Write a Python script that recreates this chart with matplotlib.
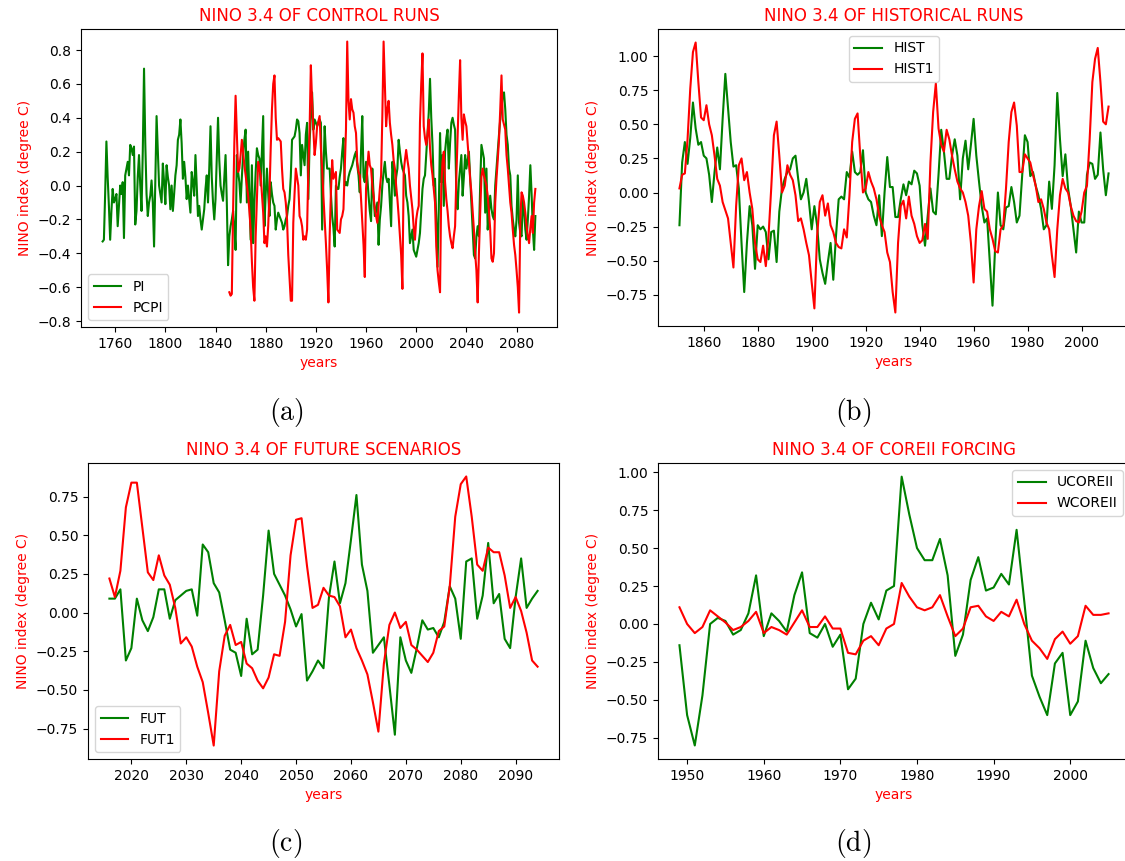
#!/usr/bin/env python3
"""Nino 3.4 index of control, historical, future and CORE-II runs (4 panels)."""

import matplotlib

matplotlib.use("Agg")
import matplotlib.pyplot as plt
import numpy as np

plt.rcParams["mathtext.fontset"] = "cm"

# ---- (a) control runs, annual values --------------------------------------
PI_START = 1750
PI = [
    -0.33, -0.32, -0.05, 0.26, 0.05, -0.12, -0.32, -0.15, -0.02, -0.10,
    -0.08, -0.05, -0.24, -0.12, 0.00, -0.05, 0.02, -0.31, 0.06, 0.10,
    0.14, 0.06, 0.24, 0.22, 0.18, 0.23, -0.23, -0.15, 0.05, 0.18,
    0.00, -0.15, 0.20, 0.69, 0.25, -0.05, -0.18, -0.10, -0.06, 0.03,
    -0.10, -0.36, 0.02, 0.41, 0.20, 0.00, -0.05, -0.10, 0.13, 0.02,
    -0.11, 0.12, 0.05, 0.00, -0.14, 0.00, -0.15, -0.05, 0.06, 0.12,
    0.27, 0.30, 0.39, 0.25, 0.04, 0.14, 0.05, -0.08, 0.00, -0.08,
    -0.16, 0.08, 0.02, -0.06, 0.18, 0.00, -0.18, -0.12, -0.20, -0.26,
    -0.20, -0.14, -0.02, 0.06, -0.10, 0.10, 0.35, 0.05, -0.10, -0.20,
    -0.08, 0.15, 0.40, 0.15, 0.00, -0.05, -0.09, 0.05, 0.18, -0.10,
    -0.47, -0.30, -0.24, -0.20, -0.15, -0.25, -0.38, 0.18, 0.08, 0.02,
    -0.10, 0.05, 0.18, 0.27, 0.33, -0.10, 0.20, -0.05, -0.32, 0.12,
    -0.34, -0.10, 0.08, 0.22, 0.18, 0.16, 0.00, 0.20, 0.41, -0.24,
    -0.05, 0.10, -0.05, -0.18, 0.02, -0.05, -0.10, -0.12, -0.26, -0.20,
    -0.16, -0.18, -0.20, -0.22, -0.26, -0.24, -0.20, -0.18, -0.12, -0.08,
    0.05, 0.27, 0.28, 0.29, 0.33, 0.39, 0.38, 0.31, 0.06, 0.24,
    0.18, 0.12, 0.30, 0.37, -0.08, 0.26, 0.40, 0.55, 0.33, 0.39,
    0.37, 0.35, 0.37, 0.39, 0.37, -0.26, 0.05, 0.35, 0.20, 0.10,
    0.10, 0.10, -0.05, -0.18, -0.25, -0.36, 0.00, -0.02, -0.02, 0.05,
    0.10, 0.20, 0.28, 0.00, 0.02, 0.00, 0.05, 0.08, 0.10, 0.12,
    0.15, 0.18, 0.20, 0.12, 0.06, -0.04, 0.20, 0.41, 0.05, 0.02,
    0.14, 0.05, -0.06, -0.15, -0.21, 0.10, -0.05, -0.18, -0.14, -0.10,
    -0.35, -0.20, -0.12, 0.00, 0.08, 0.14, 0.05, 0.02, 0.04, -0.10,
    -0.24, 0.14, 0.05, -0.06, 0.05, 0.10, 0.27, 0.20, 0.14, 0.10,
    0.08, 0.06, -0.06, -0.10, -0.18, -0.34, -0.30, -0.26, -0.38, -0.40,
    -0.42, -0.38, -0.34, -0.28, -0.15, -0.02, 0.04, 0.06, 0.18, 0.30,
    0.43, 0.63, 0.40, 0.24, 0.00, 0.04, -0.20, -0.48, -0.14, 0.31,
    0.02, 0.18, -0.12, 0.20, 0.28, 0.33, 0.10, 0.25, 0.37, 0.40,
    0.36, 0.33, -0.05, -0.14, 0.02, 0.10, 0.18, -0.06, 0.05, 0.18,
    0.10, 0.15, 0.20, 0.05, -0.10, -0.25, -0.41, -0.43, -0.30, -0.24,
    -0.30, 0.00, 0.24, 0.20, 0.16, -0.16, 0.10, -0.26, -0.15, -0.06,
    -0.14, -0.18, -0.20, 0.00, 0.10, 0.20, 0.30, 0.39, 0.46, 0.53,
    0.55, 0.45, 0.30, 0.24, 0.10, 0.06, -0.12, -0.20, -0.26, -0.30,
    -0.20, 0.06, -0.22, -0.28, -0.30, -0.08, -0.15, -0.26, -0.32, -0.20,
    -0.06, 0.12, -0.05, -0.26, -0.38, -0.18,
]

PCPI_START = 1851
PCPI = [
    -0.63, -0.65, -0.64, -0.15, 0.25, 0.53, 0.30, 0.08, 0.10,
    0.18, 0.27, 0.20, 0.12, 0.06, 0.00, -0.06, -0.15, -0.26, -0.45,
    -0.60, -0.68, -0.30, -0.08, 0.14, 0.10, 0.06, -0.05, -0.16, -0.34,
    -0.30, -0.36, -0.24, -0.05, 0.22, 0.45, 0.60, 0.65, 0.40, 0.27,
    0.28, 0.27, 0.26, 0.10, -0.02, -0.04, -0.10, -0.20, -0.41, -0.55,
    -0.68, -0.68, -0.22, -0.05, 0.10, 0.05, 0.00, -0.18, -0.20, -0.24,
    -0.32, -0.30, -0.32, -0.26, 0.10, 0.33, 0.71, 0.50, 0.33, 0.18,
    0.25, 0.35, 0.38, 0.41, 0.22, 0.10, -0.06, -0.20, -0.34, -0.50,
    -0.69, -0.30, -0.04, 0.15, 0.04, 0.06, 0.08, -0.26, -0.27, -0.28,
    -0.20, -0.18, -0.14, 0.10, 0.33, 0.85, 0.50, 0.39, 0.51, 0.45,
    0.43, 0.35, 0.31, 0.14, 0.08, 0.06, -0.08, -0.22, -0.35, -0.54,
    -0.02, 0.10, 0.20, 0.12, 0.10, 0.00, -0.06, -0.14, -0.18, -0.22,
    -0.12, -0.02, 0.06, 0.41, 0.85, 0.60, 0.35, 0.45, 0.50, 0.37,
    0.30, 0.24, 0.15, 0.10, 0.00, -0.08, -0.18, -0.30, -0.41, -0.61,
    0.08, 0.15, 0.21, 0.15, 0.10, 0.00, -0.07, -0.14, -0.25, -0.32,
    -0.20, -0.15, -0.12, 0.37, 0.60, 0.78, 0.35, 0.28, 0.24, 0.30,
    0.39, 0.22, 0.12, 0.06, -0.02, -0.10, -0.36, -0.50, -0.57, -0.63,
    0.00, 0.14, 0.20, 0.02, -0.08, -0.15, -0.24, -0.30, -0.34, -0.37,
    -0.30, -0.24, 0.05, 0.30, 0.53, 0.74, 0.40, 0.27, 0.42, 0.38,
    0.35, 0.25, 0.15, 0.04, -0.04, -0.15, -0.26, -0.40, -0.50, -0.69,
    -0.40, -0.16, 0.05, 0.10, 0.06, 0.03, 0.00, -0.06, -0.15, -0.26,
    -0.43, -0.45, -0.40, -0.10, 0.04, 0.15, 0.27, 0.45, 0.65, 0.39,
    0.36, 0.33, 0.18, 0.10, 0.00, -0.10, -0.16, -0.26, -0.35, -0.41,
    -0.50, -0.60, -0.75, -0.20, -0.04, -0.06, -0.10, -0.16, -0.24, -0.30,
    -0.34, -0.25, -0.18, -0.28, -0.10, -0.02,
]

# ---- (b) historical runs ----------------------------------------------------
HIST_START = 1851
HIST = [
    -0.24, 0.22, 0.37, 0.21, 0.40, 0.66, 0.47, 0.35, 0.37,
    0.27, 0.25, 0.13, -0.07, 0.15, 0.33, 0.17, 0.54, 0.87, 0.62,
    0.37, 0.19, 0.20, 0.03, -0.37, -0.73, -0.37, -0.10, -0.24, -0.56,
    -0.24, -0.27, -0.25, -0.29, -0.49, -0.29, -0.28, -0.51, -0.14, 0.03,
    0.10, 0.15, 0.17, 0.25, 0.27, 0.10, -0.05, 0.00, 0.10, -0.07,
    -0.27, -0.10, -0.24, -0.49, -0.59, -0.67, -0.51, -0.37, -0.64, -0.32,
    -0.05, -0.03, -0.05, 0.15, 0.11, 0.30, 0.15, 0.13, 0.15, 0.31,
    0.00, -0.05, -0.07, -0.17, -0.24, -0.02, -0.32, 0.00, 0.26, 0.04,
    0.04, -0.18, -0.18, -0.05, 0.06, -0.02, 0.08, 0.06, 0.16, 0.14,
    0.05, -0.24, -0.39, -0.17, 0.03, -0.14, -0.16, 0.13, 0.46, 0.30,
    0.10, 0.10, 0.27, 0.39, 0.27, -0.05, 0.25, 0.38, 0.17, 0.35,
    0.54, 0.27, 0.08, -0.10, -0.22, -0.19, -0.51, -0.83, -0.39, 0.00,
    -0.24, -0.27, -0.11, -0.10, 0.04, -0.07, -0.22, -0.17, 0.13, 0.42,
    0.37, 0.12, 0.15, 0.05, -0.02, -0.12, -0.27, -0.24, 0.08, -0.12,
    0.20, 0.73, 0.39, 0.12, 0.28, 0.03, -0.10, -0.27, -0.44, -0.14,
    -0.22, -0.22, 0.13, 0.22, 0.21, 0.10, 0.13, 0.44, 0.17, -0.02,
    0.14,
]
HIST1 = [
    0.03, 0.13, 0.14, 0.39, 0.76, 1.03, 1.10, 0.81, 0.55,
    0.53, 0.64, 0.50, 0.42, 0.27, 0.10, 0.05, -0.07, -0.13, -0.19,
    -0.37, -0.55, -0.10, 0.20, 0.25, 0.09, 0.15, 0.00, -0.12, -0.37,
    -0.49, -0.51, -0.39, -0.54, -0.32, 0.03, 0.42, 0.52, 0.27, 0.00,
    0.05, 0.20, 0.13, 0.09, -0.02, -0.21, -0.19, -0.27, -0.37, -0.46,
    -0.66, -0.85, -0.32, -0.07, -0.02, -0.17, -0.08, -0.24, -0.29, -0.37,
    -0.40, -0.41, -0.27, -0.33, -0.02, 0.37, 0.54, 0.58, 0.27, 0.00,
    0.03, 0.15, 0.08, 0.03, -0.05, -0.17, -0.24, -0.29, -0.44, -0.51,
    -0.73, -0.88, -0.37, -0.10, -0.06, -0.19, -0.03, -0.17, -0.23, -0.32,
    -0.37, -0.35, -0.23, -0.34, 0.22, 0.59, 0.80, 0.47, 0.35, 0.30,
    0.46, 0.39, 0.27, 0.17, 0.08, 0.03, 0.00, -0.07, -0.17, -0.37,
    -0.66, -0.27, -0.10, 0.01, -0.12, -0.14, -0.27, -0.34, -0.43, -0.44,
    -0.27, -0.24, 0.03, 0.37, 0.59, 0.66, 0.49, 0.15, 0.15, 0.28,
    0.25, 0.22, 0.13, 0.05, -0.07, -0.05, -0.12, -0.22, -0.27, -0.46,
    -0.62, -0.27, -0.02, 0.10, 0.03, 0.00, -0.10, -0.17, -0.21, -0.22,
    -0.14, 0.00, 0.05, 0.39, 0.81, 0.98, 1.06, 0.81, 0.52, 0.50,
    0.63,
]

# ---- (c) future scenarios ---------------------------------------------------
FUT_START = 2016
FUT = [
    0.09, 0.09, 0.15, -0.31, -0.23, 0.09, -0.05, -0.12, -0.03, 0.15,
    0.15, -0.04, 0.08, 0.11, 0.14, 0.15, -0.02, 0.44, 0.39, 0.19,
    0.13, -0.05, -0.24, -0.26, -0.41, -0.04, -0.27, -0.24, 0.11, 0.53,
    0.25, 0.18, 0.11, 0.02, -0.09, -0.01, -0.44, -0.38, -0.31, -0.36,
    0.10, 0.33, 0.06, 0.19, 0.47, 0.76, 0.31, 0.14, -0.26, -0.21,
    -0.16, -0.47, -0.79, -0.16, -0.31, -0.39, -0.23, -0.05, -0.11, -0.10,
    -0.16, -0.06, 0.17, 0.09, -0.17, 0.33, 0.35, -0.04, 0.11, 0.45,
    0.06, 0.12, -0.17, -0.23, 0.10, 0.35, 0.03, 0.09, 0.14,
]
FUT1 = [
    0.22, 0.10, 0.27, 0.68, 0.84, 0.84, 0.55, 0.26, 0.21, 0.37,
    0.24, 0.18, 0.03, -0.20, -0.16, -0.22, -0.35, -0.45, -0.65, -0.86,
    -0.38, -0.15, -0.08, -0.21, -0.19, -0.33, -0.36, -0.44, -0.49, -0.42,
    -0.27, -0.28, -0.06, 0.37, 0.60, 0.61, 0.30, 0.03, 0.05, 0.16,
    0.11, 0.10, 0.04, -0.16, -0.11, -0.23, -0.31, -0.40, -0.58, -0.77,
    -0.33, -0.08, 0.00, -0.10, -0.06, -0.21, -0.24, -0.28, -0.32, -0.26,
    -0.12, -0.09, 0.17, 0.62, 0.83, 0.88, 0.62, 0.31, 0.27, 0.42,
    0.39, 0.39, 0.24, 0.03, 0.10, 0.01, -0.13, -0.31, -0.35,
]

# ---- (d) CORE-II forcing ----------------------------------------------------
CORE_START = 1949
UCOREII = [
    -0.14, -0.60, -0.80, -0.47, 0.00, 0.04, 0.02, -0.07, -0.04, 0.07,
    0.32, -0.08, 0.07, 0.02, -0.05, 0.19, 0.34, -0.06, -0.09, 0.00,
    -0.15, -0.07, -0.43, -0.36, 0.00, 0.14, 0.03, 0.22, 0.25, 0.97,
    0.72, 0.50, 0.42, 0.42, 0.56, 0.32, -0.21, -0.07, 0.29, 0.44,
    0.22, 0.24, 0.33, 0.26, 0.62, 0.15, -0.34, -0.48, -0.60, -0.26,
    -0.19, -0.60, -0.51, -0.11, -0.29, -0.39, -0.33,
]
WCOREII = [
    0.11, 0.00, -0.06, -0.02, 0.09, 0.05, 0.01, -0.04, -0.02, 0.02,
    0.08, -0.06, -0.02, -0.04, -0.07, 0.01, 0.09, -0.02, -0.02, 0.05,
    -0.03, -0.03, -0.19, -0.20, -0.11, -0.08, -0.14, -0.03, 0.00, 0.27,
    0.18, 0.11, 0.09, 0.11, 0.19, 0.05, -0.08, -0.03, 0.11, 0.12,
    0.05, 0.02, 0.08, 0.05, 0.16, 0.00, -0.11, -0.16, -0.23, -0.10,
    -0.05, -0.13, -0.08, 0.12, 0.06, 0.06, 0.07,
]

W, H = 1125, 861


def years(start, values):
    return np.arange(start, start + len(values))


def add_axes_px(fig, left, top, right, bottom):
    return fig.add_axes([left / W, 1 - bottom / H, (right - left) / W, (bottom - top) / H])


def draw_panel(ax, title, green, red, legend_loc, xlim, ylim, xticks, yticks):
    (gname, gstart, gvals), (rname, rstart, rvals) = green, red
    ax.plot(years(gstart, gvals), gvals, color="green", lw=1.5, label=gname)
    ax.plot(years(rstart, rvals), rvals, color="red", lw=1.5, label=rname)
    ax.set_title(title, color="red", fontsize=12)
    ax.set_xlabel("years", color="red", fontsize=10)
    ax.set_ylabel("NINO index (degree C)", color="red", fontsize=10)
    ax.set_xlim(*xlim)
    ax.set_ylim(*ylim)
    ax.set_xticks(xticks)
    ax.set_yticks(yticks)
    ax.tick_params(labelsize=10)
    ax.legend(loc=legend_loc, fontsize=10)


def main():
    fig = plt.figure(figsize=(W / 100, H / 100), dpi=100)

    ax = add_axes_px(fig, 81, 29, 557, 327)
    draw_panel(
        ax, "NINO 3.4 OF CONTROL RUNS",
        ("PI", PI_START, PI), ("PCPI", PCPI_START, PCPI),
        "lower left", (1732.75, 2112.25), (-0.835, 0.924),
        np.arange(1760, 2081, 40), np.arange(-0.8, 0.81, 0.2),
    )

    ax = add_axes_px(fig, 658, 29, 1130, 326)
    draw_panel(
        ax, "NINO 3.4 OF HISTORICAL RUNS",
        ("HIST", HIST_START, HIST), ("HIST1", HIST_START, HIST1),
        "upper center", (1843.05, 2017.95), (-0.979, 1.199),
        np.arange(1860, 2001, 20), np.arange(-0.75, 1.01, 0.25),
    )

    ax = add_axes_px(fig, 88, 463, 559, 759)
    draw_panel(
        ax, "NINO 3.4 OF FUTURE SCENARIOS",
        ("FUT", FUT_START, FUT), ("FUT1", FUT_START, FUT1),
        "lower left", (2012.1, 2097.9), (-0.947, 0.967),
        np.arange(2020, 2091, 10), np.arange(-0.75, 0.76, 0.25),
    )

    ax = add_axes_px(fig, 658, 463, 1130, 759)
    draw_panel(
        ax, "NINO 3.4 OF COREII FORCING",
        ("UCOREII", CORE_START, UCOREII), ("WCOREII", CORE_START, WCOREII),
        "upper right", (1946.2, 2007.8), (-0.889, 1.06),
        np.arange(1950, 2001, 10), np.arange(-0.75, 1.01, 0.25),
    )

    # sub-figure captions
    for label, x, y in [("(a)", 286, 412), ("(b)", 853, 412), ("(c)", 286, 843), ("(d)", 853, 843)]:
        fig.text(x / W, 1 - y / H, r"$\mathrm{%s}$" % label, ha="center", va="center", fontsize=20)

    fig.savefig("out.png", dpi=100, facecolor="white")
    plt.close()


if __name__ == "__main__":
    main()
